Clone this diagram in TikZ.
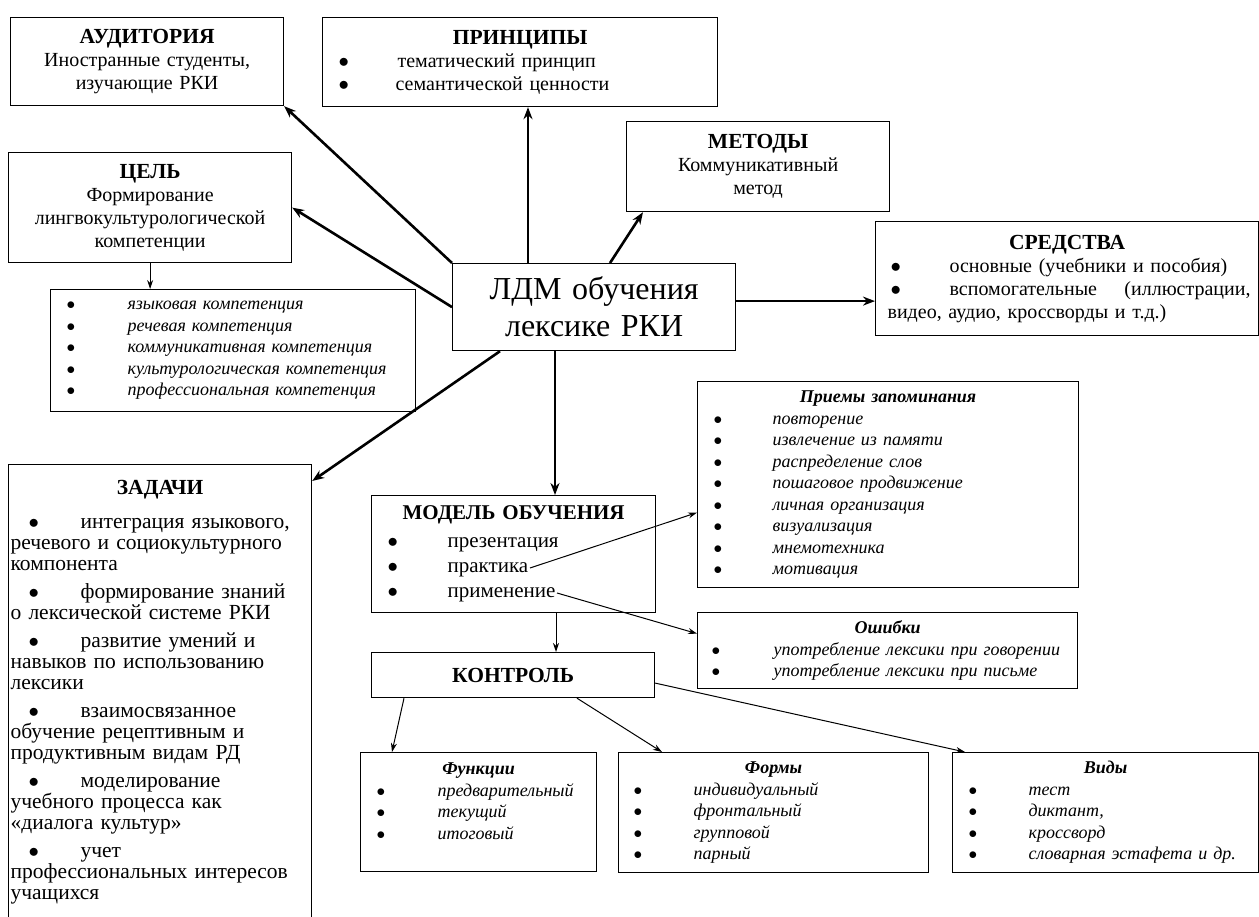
\documentclass[tikz,border=0pt]{standalone}
\usepackage{fontspec}
\setmainfont{Liberation Serif}
\usetikzlibrary{arrows.meta}
\newcommand{\bodyfont}{\fontsize{20}{23}\selectfont}
\newcommand{\listfont}{\fontsize{18}{21.5}\selectfont\itshape}
\newcommand{\ttl}[1]{{\fontsize{21.5}{23}\selectfont\textbf{#1}}}
\newcommand{\lft}[2]{\makebox[\hsize][l]{\hspace*{#1}#2}}
\newcommand{\itm}[3]{\makebox[\hsize][l]{\hspace*{#1}\makebox[#2][l]{$\bullet$}#3}}
\tikzset{
    box/.style={draw, line width=1.2pt, anchor=north west, inner sep=0pt, align=center},
    boxsize/.style 2 args={minimum width=#1, minimum height=#2, text width=#1},
    bigarrow/.style={-{Stealth[length=12pt, width=9pt]}, line width=2.6pt},
    thinarrow/.style={-{Stealth[length=9pt, width=6pt]}, line width=1pt}
}

\begin{document}
\begin{tikzpicture}[x=1pt, y=-1pt]

      \useasboundingbox (0,0) rectangle (1259,917);

      \node[box, boxsize={273pt}{88pt}, font=\bodyfont] (aud) at (10,17)
        {\ttl{АУДИТОРИЯ}\\Иностранные студенты,\\изучающие РКИ};
      \node[box, boxsize={395pt}{89pt}, font=\bodyfont] (princ) at (322,17)
        {\ttl{ПРИНЦИПЫ}\\
         \itm{16pt}{59pt}{тематический принцип}\\
         \itm{16pt}{57pt}{семантической ценности}};
      \node[box, boxsize={263pt}{90pt}, font=\bodyfont] (met) at (626,121)
        {\ttl{МЕТОДЫ}\\Коммуникативный\\метод};
      \node[box, boxsize={283pt}{110pt}, font=\bodyfont] (cel) at (8,152)
        {\ttl{ЦЕЛЬ}\\Формирование\\лингвокультурологической\\компетенции};
      \node[box, boxsize={365pt}{122pt}, font=\listfont] (comp) at (50,289)
        {\itm{16pt}{61pt}{языковая компетенция}\\
         \itm{16pt}{61pt}{речевая компетенция}\\
         \itm{16pt}{61pt}{коммуникативная компетенция}\\
         \itm{16pt}{61pt}{культурологическая компетенция}\\
         \itm{16pt}{61pt}{профессиональная компетенция}};
      \node[box, boxsize={383pt}{114pt}, font=\bodyfont] (sred) at (875,221)
        {\ttl{СРЕДСТВА}\\
         \itm{15pt}{59pt}{основные (учебники и пособия)}\\
         \makebox[\hsize][s]{\hspace*{15pt}\makebox[59pt][l]{$\bullet$}вспомогательные\hfill(иллюстрации,\hspace*{8pt}}\\
         \lft{12pt}{видео, аудио, кроссворды и т.д.)}};
      \node[box, boxsize={283pt}{87pt}, font=\fontsize{32}{37}\selectfont] (ldm) at (452,263)
        {ЛДМ обучения\\лексике РКИ};
      \node[box, boxsize={303pt}{472pt}, font=\fontsize{21.5}{21}\selectfont] (zad) at (8,464)
        {\ttl{ЗАДАЧИ}\\[13pt]
         \itm{20pt}{52pt}{интеграция языкового,}\\
         \lft{2pt}{речевого и социокультурного}\\
         \lft{2pt}{компонента}\\[7pt]
         \itm{20pt}{52pt}{формирование знаний}\\
         \lft{2pt}{о лексической  системе РКИ}\\[7pt]
         \itm{20pt}{52pt}{развитие умений и}\\
         \lft{2pt}{навыков по использованию}\\
         \lft{2pt}{лексики}\\[7pt]
         \itm{20pt}{52pt}{взаимосвязанное}\\
         \lft{2pt}{обучение рецептивным и}\\
         \lft{2pt}{продуктивным видам РД}\\[7pt]
         \itm{20pt}{52pt}{моделирование}\\
         \lft{2pt}{учебного процесса как}\\
         \lft{2pt}{«диалога культур»}\\[7pt]
         \itm{20pt}{52pt}{учет}\\
         \lft{2pt}{профессиональных интересов}\\
         \lft{2pt}{учащихся}\\
         \mbox{}};
      \node[box, boxsize={284pt}{117pt}, font=\fontsize{21}{25}\selectfont] (model) at (371,495)
        {\textbf{МОДЕЛЬ ОБУЧЕНИЯ}\\[3pt]
         \itm{16pt}{60pt}{презентация}\\
         \itm{16pt}{60pt}{практика}\\
         \itm{16pt}{60pt}{применение}};
      \node[box, boxsize={381pt}{206pt}, font=\listfont] (priem) at (697,381)
        {\textbf{Приемы запоминания}\\
         \itm{16pt}{59pt}{повторение}\\
         \itm{16pt}{59pt}{извлечение из памяти}\\
         \itm{16pt}{59pt}{распределение слов}\\
         \itm{16pt}{59pt}{пошаговое продвижение}\\
         \itm{16pt}{59pt}{личная организация}\\
         \itm{16pt}{59pt}{визуализация}\\
         \itm{16pt}{59pt}{мнемотехника}\\
         \itm{16pt}{59pt}{мотивация}};
      \node[box, boxsize={380pt}{76pt}, font=\listfont] (osh) at (697,612)
        {\textbf{Ошибки}\\
         \itm{14pt}{62pt}{употребление лексики при говорении}\\
         \itm{14pt}{62pt}{употребление лексики при письме}};
      \node[box, boxsize={283pt}{45pt}, font=\bodyfont] (kontr) at (371,652)
        {\ttl{КОНТРОЛЬ}};
      \node[box, boxsize={236pt}{119pt}, font=\listfont] (funk) at (360,752)
        {\textbf{Функции}\\
         \itm{16pt}{61pt}{предварительный}\\
         \itm{16pt}{61pt}{текущий}\\
         \itm{16pt}{61pt}{итоговый}\\
         \mbox{}};
      \node[box, boxsize={310pt}{120pt}, font=\listfont] (form) at (618,752)
        {\textbf{Формы}\\
         \itm{15pt}{60pt}{индивидуальный}\\
         \itm{15pt}{60pt}{фронтальный}\\
         \itm{15pt}{60pt}{групповой}\\
         \itm{15pt}{60pt}{парный}};
      \node[box, boxsize={306pt}{120pt}, font=\listfont] (vid) at (952,752)
        {\textbf{Виды}\\
         \itm{16pt}{60pt}{тест}\\
         \itm{16pt}{60pt}{диктант,}\\
         \itm{16pt}{60pt}{кроссворд}\\
         \itm{16pt}{60pt}{словарная эстафета и др.}};

      \coordinate (to-princ) at ([xshift=76pt]ldm.north west);
      \coordinate (to-met) at ([xshift=158pt]ldm.north west);
      \coordinate (to-sred) at ([yshift=6pt]ldm.east);
      \coordinate (to-zad) at ([xshift=48pt]ldm.south west);
      \coordinate (to-model) at ([xshift=103pt]ldm.south west);
      \coordinate (prakt) at ([xshift=159pt, yshift=-73pt]model.north west);
      \coordinate (primen) at ([xshift=186pt, yshift=-98pt]model.north west);
      \coordinate (to-kontr) at ([xshift=185pt]model.south west);

      \draw[bigarrow] (ldm.north west) -- (aud.south east);
      \draw[bigarrow] (ldm.west) -- (cel.east);
      \draw[bigarrow] (to-princ) -- (to-princ |- princ.south);
      \draw[bigarrow] (to-met) -- ([xshift=17pt]met.south west);
      \draw[bigarrow] (to-sred) -- (to-sred -| sred.west);
      \draw[bigarrow] (to-zad) -- ([yshift=-17pt]zad.north east);
      \draw[bigarrow] (to-model) -- (to-model |- model.north);

      \draw[thinarrow] (cel.south) -- (cel.south |- comp.north);
      \draw[thinarrow] (prakt) -- ([yshift=-28pt]priem.west);
      \draw[thinarrow] (primen) -- ([yshift=17pt]osh.west);
      \draw[thinarrow] (to-kontr) -- (to-kontr |- kontr.north);
      \draw[thinarrow] ([xshift=33pt]kontr.south west) -- ([xshift=32pt]funk.north west);
      \draw[thinarrow] ([xshift=206pt]kontr.south west) -- ([xshift=44pt]form.north west);
      \draw[thinarrow] ([yshift=-8pt]kontr.east) -- ([xshift=13pt]vid.north west);
    \end{tikzpicture}
\end{document}
